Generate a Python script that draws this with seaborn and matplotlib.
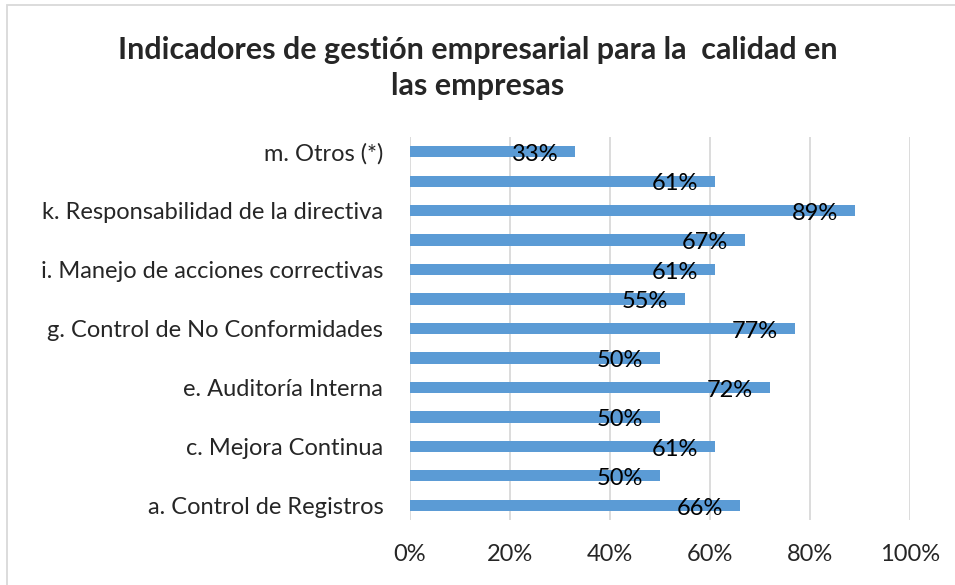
import numpy as np
import pandas as pd
import matplotlib
matplotlib.use("Agg")
import matplotlib.pyplot as plt
import seaborn as sns
from matplotlib.patches import Rectangle

# ========== 数据 ==========
codes = ["a", "b", "c", "d", "e", "f", "g", "h", "i", "j", "k", "l", "m"]
tick_labels = ["a. Control de Registros", "", "c. Mejora Continua", "",
               "e. Auditoría Interna", "", "g. Control de No Conformidades", "",
               "i. Manejo de acciones correctivas", "", "k. Responsabilidad de la directiva", "",
               "m. Otros (*)"]
values = [66, 50, 61, 50, 72, 50, 77, 55, 61, 67, 89, 61, 33]
x_ticks = [0, 20, 40, 60, 80, 100]

title = "Indicadores de gestión empresarial para la  calidad en\nlas empresas"

sns.set_theme(style="white")
plt.rcParams["font.family"] = ["Lato", "DejaVu Sans"]

# top category first (seaborn puts first category at top)
order = codes[::-1]
df = pd.DataFrame({"code": codes, "value": values})

fig = plt.figure(figsize=(9.55, 5.85), dpi=100)
ax = fig.add_axes([0.429, 0.111, 0.524, 0.655])

sns.barplot(data=df, x="value", y="code", order=order, color="#5B9BD5",
            width=0.38, saturation=1, linewidth=0, ax=ax)

ax.set_xlim(0, 100)
ax.set_ylim(12.5, -0.5)
ax.set_xticks(x_ticks)
ax.set_xticklabels([f"{t}%" for t in x_ticks], fontsize=17)
ax.set_yticks(range(len(order)))
ax.set_yticklabels(tick_labels[::-1], fontsize=17)
ax.tick_params(axis="y", length=0, pad=19)
ax.tick_params(axis="x", length=0, pad=17)
ax.set_xlabel("")
ax.set_ylabel("")
ax.grid(axis="x", color="#D9D9D9", linewidth=1.3)
ax.set_axisbelow(True)
for s in ax.spines.values():
    s.set_visible(False)

# etiquetas de datos (inside end)
for i, code in enumerate(order):
    v = df.loc[df["code"] == code, "value"].iloc[0]
    ax.annotate(f"{v}%", xy=(v, i), xytext=(-12, -2), textcoords="offset points",
                ha="right", va="center", fontsize=17, color="black")

fig.text(0.5, 0.883, title, ha="center", va="center", fontsize=22,
         fontweight="bold", linespacing=1.35)

# borde del área del gráfico
fig.patches.append(Rectangle((7 / 955, -0.05), 1.2, 1 - 5 / 585 + 0.05,
                             transform=fig.transFigure, fill=False,
                             edgecolor="#D9D9D9", linewidth=1.3))

fig.savefig("out.png", dpi=100)
